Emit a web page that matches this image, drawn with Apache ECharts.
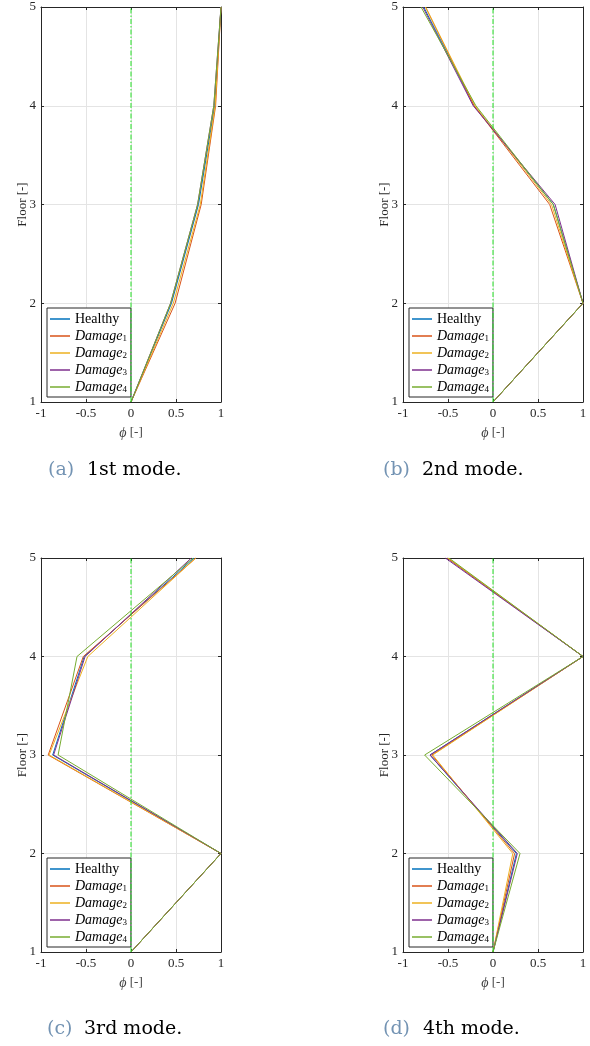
<!DOCTYPE html>
<html><head><meta charset="utf-8">
<script src="https://cdn.jsdelivr.net/npm/echarts@6/dist/echarts.min.js"></script>
<style>html,body{margin:0;padding:0;background:#fff}#c{width:590px;height:1046px}</style>
</head><body><div id="c"></div>
<script>
// ---------- data ----------
const floors = [1, 2, 3, 4, 5];
const seriesNames = ['Healthy', 'Damage1', 'Damage2', 'Damage3', 'Damage4'];
const xTickLabels = ['-1', '-0.5', '0', '0.5', '1'];
const yTickLabels = ['1', '2', '3', '4', '5'];
const captionTags = ['(a)', '(b)', '(c)', '(d)'];
const captionTexts = ['1st mode.', '2nd mode.', '3rd mode.', '4th mode.'];

// mode shapes (phi per floor 1..5), order: Healthy, Damage1..4
const mode1 = [
  [0, 0.45, 0.75, 0.93, 1],
  [0, 0.49, 0.78, 0.94, 1],
  [0, 0.47, 0.77, 0.935, 1],
  [0, 0.44, 0.74, 0.92, 1],
  [0, 0.44, 0.74, 0.92, 1]
];
const mode2 = [
  [0, 1, 0.67, -0.21, -0.77],
  [0, 1, 0.63, -0.21, -0.75],
  [0, 1, 0.65, -0.20, -0.75],
  [0, 1, 0.69, -0.22, -0.78],
  [0, 1, 0.67, -0.19, -0.80]
];
const mode3 = [
  [0, 1, -0.87, -0.52, 0.70],
  [0, 1, -0.92, -0.53, 0.72],
  [0, 1, -0.91, -0.48, 0.72],
  [0, 1, -0.86, -0.51, 0.67],
  [0, 1, -0.81, -0.60, 0.69]
];
const mode4 = [
  [0, 0.26, -0.70, 1, -0.51],
  [0, 0.24, -0.68, 1, -0.51],
  [0, 0.22, -0.67, 1, -0.50],
  [0, 0.27, -0.70, 1, -0.53],
  [0, 0.30, -0.76, 1, -0.49]
];
const modes = [mode1, mode2, mode3, mode4];

// ---------- styling ----------
const colors = ['#0072BD', '#D95319', '#EDB120', '#7E2F8E', '#77AC30'];
const ZERO = '#22e022';
const panels = [
  { left: 41, top: 7, width: 180, height: 395 },
  { left: 403, top: 7, width: 180, height: 395 },
  { left: 41, top: 558, width: 180, height: 394 },
  { left: 403, top: 558, width: 180, height: 394 }
];
const captionPos = [
  { tx: 48, x: 87, y: 472 },
  { tx: 383, x: 422, y: 472 },
  { tx: 47, x: 84, y: 1031 },
  { tx: 383, x: 423, y: 1031 }
];
const AX = '#262626';
const SERIF = 'Liberation Serif';

const option = {
  animation: false,
  backgroundColor: '#fff',
  grid: [], xAxis: [], yAxis: [], series: [], legend: [], graphic: []
};

panels.forEach((p, i) => {
  option.grid.push({ left: p.left, top: p.top, width: p.width, height: p.height, containLabel: false, show: false });
  const xMin = parseFloat(xTickLabels[0]), xMax = parseFloat(xTickLabels[xTickLabels.length - 1]);
  const yMin = parseFloat(yTickLabels[0]), yMax = parseFloat(yTickLabels[yTickLabels.length - 1]);
  // bottom x
  option.xAxis.push({
    gridIndex: i, type: 'value', min: xMin, max: xMax, interval: 0.5, position: 'bottom',
    axisLine: { show: true, onZero: false, lineStyle: { color: AX, width: 1 } },
    axisTick: { show: true, inside: true, length: 3, lineStyle: { color: AX } },
    axisLabel: { margin: 5, color: AX, fontFamily: SERIF, fontSize: 13,
      formatter: v => xTickLabels[Math.round((v - xMin) / 0.5)] },
    splitLine: { show: true, lineStyle: { color: '#e4e4e4', width: 1 } },
    name: '{i|ϕ} [-]', nameLocation: 'middle', nameGap: 24, nameMoveOverlap: false,
    nameTextStyle: { color: '#404040', fontFamily: SERIF, fontSize: 13,
      rich: { i: { fontStyle: 'italic', fontFamily: SERIF, fontSize: 14, color: '#404040' } } }
  });
  // top x (box)
  option.xAxis.push({
    gridIndex: i, type: 'value', min: xMin, max: xMax, interval: 0.5, position: 'top',
    axisLine: { show: true, onZero: false, lineStyle: { color: AX, width: 1 } },
    axisTick: { show: true, inside: true, length: 3, lineStyle: { color: AX } },
    axisLabel: { show: false }, splitLine: { show: false }
  });
  // left y
  option.yAxis.push({
    gridIndex: i, type: 'value', min: yMin, max: yMax, interval: 1, position: 'left',
    axisLine: { show: true, onZero: false, lineStyle: { color: AX, width: 1 } },
    axisTick: { show: true, inside: true, length: 3, lineStyle: { color: AX } },
    axisLabel: { margin: 5, color: AX, fontFamily: SERIF, fontSize: 13,
      formatter: v => yTickLabels[Math.round(v - yMin)] },
    splitLine: { show: true, lineStyle: { color: '#e4e4e4', width: 1 } },
    name: 'Floor [-]', nameLocation: 'middle', nameGap: 12, nameMoveOverlap: false,
    nameTextStyle: { color: AX, fontFamily: SERIF, fontSize: 13 }
  });
  // right y (box)
  option.yAxis.push({
    gridIndex: i, type: 'value', min: yMin, max: yMax, interval: 1, position: 'right',
    axisLine: { show: true, onZero: false, lineStyle: { color: AX, width: 1 } },
    axisTick: { show: true, inside: true, length: 3, lineStyle: { color: AX } },
    axisLabel: { show: false }, splitLine: { show: false }
  });

  modes[i].forEach((vals, k) => {
    option.series.push({
      type: 'line', name: seriesNames[k], xAxisIndex: 2 * i, yAxisIndex: 2 * i,
      data: vals.map((v, j) => [v, floors[j]]),
      symbol: 'none', showSymbol: false, color: colors[k],
      itemStyle: { color: colors[k] },
      lineStyle: { color: colors[k], width: 1 }, z: 3 + k
    });
  });
  // x = 0 dash-dot reference line
  option.series.push({
    type: 'line', name: 'ref' + i, xAxisIndex: 2 * i, yAxisIndex: 2 * i,
    data: [[0, floors[0]], [0, floors[floors.length - 1]]],
    symbol: 'none', showSymbol: false, silent: true, z: 10,
    color: ZERO, itemStyle: { color: ZERO },
    lineStyle: { color: ZERO, width: 1, type: [5, 2, 1.5, 2], opacity: 1 },
    emphasis: { disabled: true }
  });

  option.legend.push({
    data: seriesNames.map(n => ({ name: n, icon: 'rect' })), orient: 'vertical',
    left: p.left + 6, top: p.top + p.height - 94,
    padding: [4, 4, 3, 3], itemGap: 3, itemWidth: 20, itemHeight: 1.5,
    backgroundColor: '#fff', borderColor: AX, borderWidth: 1,
    selectedMode: false,
    formatter: n => n === 'Healthy' ? '{n|Healthy}' : '{i|Damage}{s|' + n.slice(6) + '}',
    textStyle: {
      color: '#000', fontFamily: SERIF, fontSize: 14, lineHeight: 14,
      rich: {
        n: { fontFamily: SERIF, fontSize: 14, color: '#000', lineHeight: 14 },
        i: { fontFamily: SERIF, fontStyle: 'italic', fontSize: 14, color: '#000', lineHeight: 14 },
        s: { fontFamily: SERIF, fontSize: 9, color: '#000', lineHeight: 6, verticalAlign: 'bottom' }
      }
    }
  });

  const c = captionPos[i];
  option.graphic.push({
    type: 'text', left: c.tx, top: c.y - 11,
    style: { text: captionTags[i], font: '19px "DejaVu Serif"', fill: '#7393b3' }
  });
  option.graphic.push({
    type: 'text', left: c.x, top: c.y - 11,
    style: { text: captionTexts[i], font: '19px "DejaVu Serif"', fill: '#000' }
  });
});

const chart = echarts.init(document.getElementById('c'), null, { renderer: 'canvas' });
chart.setOption(option);
</script>
</body></html>
